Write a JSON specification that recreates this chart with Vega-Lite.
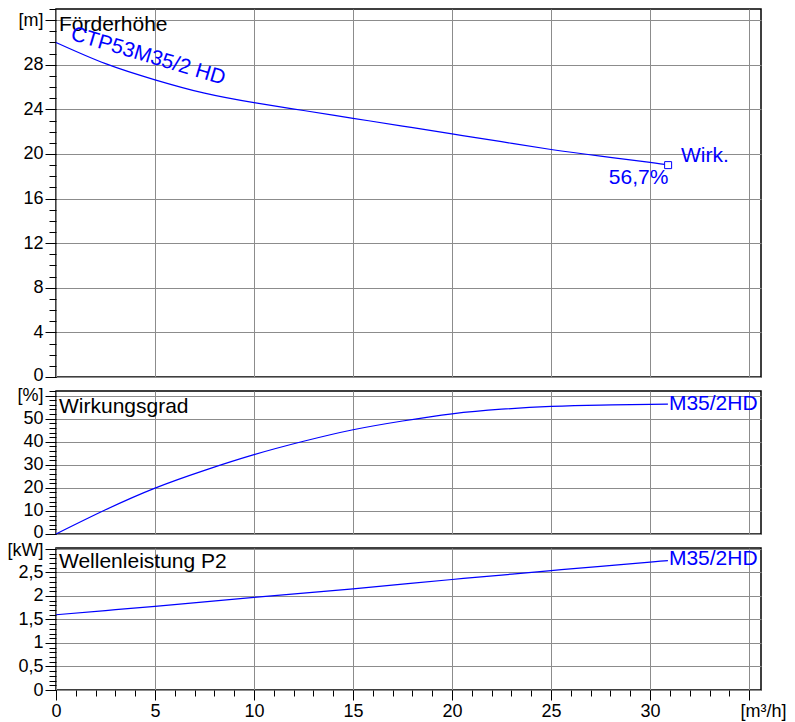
{
  "$schema": "https://vega.github.io/schema/vega-lite/v6.json",
  "padding": {"left": 6, "top": 7, "right": 5, "bottom": 3},
  "bounds": "flush",
  "spacing": 14,
  "background": "white",
  "config": {
    "font": "Liberation Sans",
    "view": {"stroke": "#000000", "strokeWidth": 1.5},
    "axis": {
      "labelFont": "Liberation Sans",
      "labelFontSize": 18,
      "labelColor": "#000000",
      "tickColor": "#000000",
      "tickWidth": 1,
      "gridColor": "#8c8c8c",
      "gridWidth": 1,
      "gridOpacity": 1,
      "labelPadding": 2,
      "labelFlush": false,
      "labelOverlap": false,
      "domain": false,
      "title": null
    },
    "text": {"font": "Liberation Sans", "fontSize": 21}
  },
  "datasets": {
    "curves": [
      {"Q": 0, "H": 30.0, "eta": 0, "P": 1.60},
      {"Q": 2.5, "H": 28.1, "eta": 10.5, "P": 1.69},
      {"Q": 5, "H": 26.65, "eta": 19.9, "P": 1.78},
      {"Q": 7.5, "H": 25.45, "eta": 27.6, "P": 1.875},
      {"Q": 10, "H": 24.6, "eta": 34.4, "P": 1.97},
      {"Q": 12.5, "H": 23.9, "eta": 40.2, "P": 2.06},
      {"Q": 15, "H": 23.2, "eta": 45.2, "P": 2.15},
      {"Q": 17.5, "H": 22.5, "eta": 49.0, "P": 2.25},
      {"Q": 20, "H": 21.8, "eta": 52.1, "P": 2.35},
      {"Q": 22.5, "H": 21.1, "eta": 54.1, "P": 2.445},
      {"Q": 25, "H": 20.4, "eta": 55.3, "P": 2.54},
      {"Q": 27.5, "H": 19.8, "eta": 55.9, "P": 2.63},
      {"Q": 30, "H": 19.24, "eta": 56.2, "P": 2.72},
      {"Q": 30.9, "H": 19.0, "eta": 56.3, "P": 2.75}
    ]
  },
  "vconcat": [
    {
      "width": 705,
      "height": 368,
      "resolve": {"axis": {"x": "independent", "y": "independent"}},
      "layer": [
        {
          "data": {"name": "curves"},
          "mark": {"type": "line", "color": "#0000ff", "strokeWidth": 1.2, "interpolate": "natural"},
          "encoding": {
            "x": {"field": "Q", "type": "quantitative", "scale": {"domain": [0, 35.6], "nice": false},
              "axis": {"values": [0, 5, 10, 15, 20, 25, 30, 35], "labels": false, "ticks": false, "grid": true}},
            "y": {"field": "H", "type": "quantitative", "scale": {"domain": [0, 33], "nice": false},
              "axis": {"orient": "left", "values": [0, 4, 8, 12, 16, 20, 24, 28, 32], "tickSize": 11, "grid": true,
                "labelExpr": "datum.value == 32 ? '[m]' : datum.label",
                "labelOffset": {"condition": {"test": "datum.value == 0", "value": -2}, "value": 0}}}
          }
        },
        {
          "data": {"values": [{"Q": 30.91, "H": 19.0}]},
          "mark": {"type": "point", "shape": "square", "size": 49, "filled": true, "fill": "white", "stroke": "#0000ff", "strokeWidth": 1, "opacity": 1},
          "encoding": {
            "x": {"field": "Q", "type": "quantitative", "scale": {"domain": [0, 35.6], "nice": false}, "axis": null},
            "y": {"field": "H", "type": "quantitative", "scale": {"domain": [0, 33], "nice": false}, "axis": null}
          }
        },
        {
          "data": {"values": [{"Q": 0.15, "H": 31.05, "label": "Förderhöhe"}]},
          "mark": {"type": "text", "align": "left", "baseline": "alphabetic", "color": "#000000"},
          "encoding": {
            "x": {"field": "Q", "type": "quantitative", "scale": {"domain": [0, 35.6], "nice": false}, "axis": null},
            "y": {"field": "H", "type": "quantitative", "scale": {"domain": [0, 33], "nice": false},
              "axis": {"orient": "left", "values": [0,1,2,3,4,5,6,7,8,9,10,11,12,13,14,15,16,17,18,19,20,21,22,23,24,25,26,27,28,29,30,31,32,33], "labels": false, "grid": false, "tickSize": 7}},
            "text": {"field": "label"}
          }
        },
        {
          "data": {"values": [{"Q": 4.65, "H": 28.75, "label": "CTP53M35/2 HD"}]},
          "mark": {"type": "text", "align": "center", "baseline": "middle", "angle": 16.5, "color": "#0000ff"},
          "encoding": {
            "x": {"field": "Q", "type": "quantitative", "scale": {"domain": [0, 35.6], "nice": false}, "axis": null},
            "y": {"field": "H", "type": "quantitative", "scale": {"domain": [0, 33], "nice": false}, "axis": null},
            "text": {"field": "label"}
          }
        },
        {
          "data": {"values": [{"Q": 31.56, "H": 19.24, "label": "Wirk."}]},
          "mark": {"type": "text", "align": "left", "baseline": "alphabetic", "color": "#0000ff"},
          "encoding": {
            "x": {"field": "Q", "type": "quantitative", "scale": {"domain": [0, 35.6], "nice": false}, "axis": null},
            "y": {"field": "H", "type": "quantitative", "scale": {"domain": [0, 33], "nice": false}, "axis": null},
            "text": {"field": "label"}
          }
        },
        {
          "data": {"values": [{"Q": 30.92, "H": 17.31, "label": "56,7%"}]},
          "mark": {"type": "text", "align": "right", "baseline": "alphabetic", "color": "#0000ff"},
          "encoding": {
            "x": {"field": "Q", "type": "quantitative", "scale": {"domain": [0, 35.6], "nice": false}, "axis": null},
            "y": {"field": "H", "type": "quantitative", "scale": {"domain": [0, 33], "nice": false}, "axis": null},
            "text": {"field": "label"}
          }
        }
      ]
    },
    {
      "width": 705,
      "height": 143,
      "resolve": {"axis": {"x": "independent", "y": "independent"}},
      "layer": [
        {
          "data": {"name": "curves"},
          "mark": {"type": "line", "color": "#0000ff", "strokeWidth": 1.2, "interpolate": "natural"},
          "encoding": {
            "x": {"field": "Q", "type": "quantitative", "scale": {"domain": [0, 35.6], "nice": false},
              "axis": {"values": [0, 5, 10, 15, 20, 25, 30, 35], "labels": false, "ticks": false, "grid": true}},
            "y": {"field": "eta", "type": "quantitative", "scale": {"domain": [0, 62], "nice": false},
              "axis": {"orient": "left", "values": [0, 10, 20, 30, 40, 50, 60], "tickSize": 11, "grid": true,
                "labelExpr": "datum.value == 60 ? '[%]' : datum.label",
                "labelOffset": {"condition": {"test": "datum.value == 0", "value": -2}, "value": 0}}}
          }
        },
        {
          "data": {"values": [{"Q": 0.15, "v": 52.3, "label": "Wirkungsgrad"}]},
          "mark": {"type": "text", "align": "left", "baseline": "alphabetic", "color": "#000000"},
          "encoding": {
            "x": {"field": "Q", "type": "quantitative", "scale": {"domain": [0, 35.6], "nice": false}, "axis": null},
            "y": {"field": "v", "type": "quantitative", "scale": {"domain": [0, 62], "nice": false},
              "axis": {"orient": "left", "values": [0,2,4,6,8,10,12,14,16,18,20,22,24,26,28,30,32,34,36,38,40,42,44,46,48,50,52,54,56,58,60,62], "labels": false, "grid": false, "tickSize": 7}},
            "text": {"field": "label"}
          }
        },
        {
          "data": {"values": [{"Q": 30.95, "v": 53.9, "label": "M35/2HD"}]},
          "mark": {"type": "text", "align": "left", "baseline": "alphabetic", "color": "#0000ff"},
          "encoding": {
            "x": {"field": "Q", "type": "quantitative", "scale": {"domain": [0, 35.6], "nice": false}, "axis": null},
            "y": {"field": "v", "type": "quantitative", "scale": {"domain": [0, 62], "nice": false}, "axis": null},
            "text": {"field": "label"}
          }
        }
      ]
    },
    {
      "width": 705,
      "height": 142,
      "resolve": {"axis": {"x": "independent", "y": "independent"}},
      "layer": [
        {
          "data": {"name": "curves"},
          "mark": {"type": "line", "color": "#0000ff", "strokeWidth": 1.2, "interpolate": "natural"},
          "encoding": {
            "x": {"field": "Q", "type": "quantitative", "scale": {"domain": [0, 35.6], "nice": false},
              "axis": {"orient": "bottom", "values": [0, 5, 10, 15, 20, 25, 30, 35], "tickSize": 10, "grid": true,
                "labelExpr": "datum.value == 35 ? '[m³/h]' : datum.label",
                "labelOffset": {"condition": {"test": "datum.value == 35", "value": 14}, "value": 0}}},
            "y": {"field": "P", "type": "quantitative", "scale": {"domain": [0, 3.02], "nice": false},
              "axis": {"orient": "left", "values": [0, 0.5, 1, 1.5, 2, 2.5, 3], "tickSize": 11, "grid": true,
                "labelExpr": "datum.value == 3 ? '[kW]' : replace(format(datum.value, '.1~f'), '.', ',')",
                "labelOffset": {"condition": {"test": "datum.value == 3", "value": 2}, "value": 0}}}
          }
        },
        {
          "data": {"values": [{"Q": 0.15, "v": 2.59, "label": "Wellenleistung P2"}]},
          "mark": {"type": "text", "align": "left", "baseline": "alphabetic", "color": "#000000"},
          "encoding": {
            "x": {"field": "Q", "type": "quantitative", "scale": {"domain": [0, 35.6], "nice": false},
              "axis": {"orient": "bottom", "values": [0,1,2,3,4,5,6,7,8,9,10,11,12,13,14,15,16,17,18,19,20,21,22,23,24,25,26,27,28,29,30,31,32,33,34,35], "labels": false, "grid": false, "tickSize": 6}},
            "y": {"field": "v", "type": "quantitative", "scale": {"domain": [0, 3.02], "nice": false},
              "axis": {"orient": "left", "values": [0,0.1,0.2,0.3,0.4,0.5,0.6,0.7,0.8,0.9,1,1.1,1.2,1.3,1.4,1.5,1.6,1.7,1.8,1.9,2,2.1,2.2,2.3,2.4,2.5,2.6,2.7,2.8,2.9,3], "labels": false, "grid": false, "tickSize": 7}},
            "text": {"field": "label"}
          }
        },
        {
          "data": {"values": [{"Q": 30.95, "v": 2.65, "label": "M35/2HD"}]},
          "mark": {"type": "text", "align": "left", "baseline": "alphabetic", "color": "#0000ff"},
          "encoding": {
            "x": {"field": "Q", "type": "quantitative", "scale": {"domain": [0, 35.6], "nice": false}, "axis": null},
            "y": {"field": "v", "type": "quantitative", "scale": {"domain": [0, 3.02], "nice": false}, "axis": null},
            "text": {"field": "label"}
          }
        }
      ]
    }
  ]
}
